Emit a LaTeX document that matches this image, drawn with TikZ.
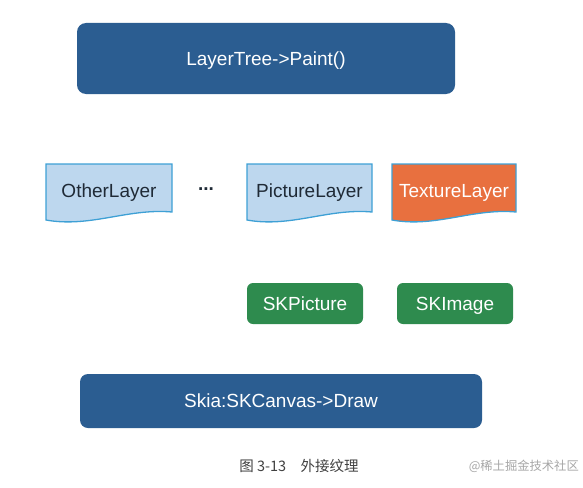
\documentclass[tikz,border=0pt]{standalone}
\usepackage{fontspec}
\setmainfont{Liberation Sans}
\newfontfamily\cjk{Noto Sans CJK SC}
\definecolor{dblue}{HTML}{2B5D91}
\definecolor{lblue}{HTML}{BDD7EE}
\definecolor{lborder}{HTML}{3EA0D5}
\definecolor{orng}{HTML}{E8703F}
\definecolor{grn}{HTML}{2E8B4E}
\definecolor{txt}{HTML}{1F2A36}
\begin{document}
\begin{tikzpicture}[x=1pt,y=-1pt,
  captext/.style={font=\fontsize{19}{22}\selectfont,text height=13.6pt,text depth=0pt},
  bigbox/.style={captext,draw=none,fill=dblue,rounded corners=9pt,text=white,inner sep=0pt},
  greenbox/.style={captext,draw=none,fill=grn,rounded corners=6pt,text=white,minimum width=116pt,minimum height=41pt,inner sep=0pt},
  lbl/.style={captext,inner sep=0pt},
  docline/.style={draw=lborder,line width=1.3pt}]
\useasboundingbox (0,0) rectangle (583,487);
% top box
\node[bigbox,minimum width=378pt,minimum height=71pt] (tree) at (266,58.5) {LayerTree->Paint()};
% document shapes
\newcommand{\docshape}[3]{% x left, x right, fill
  \filldraw[docline,fill=#3] (#1,164) -- (#2,164) -- (#2,212)
    .. controls ({#2-0.35*(#2-#1)},208) and ({#1+0.35*(#2-#1)},228) .. (#1,220) -- cycle;}
\docshape{46}{172}{lblue}
\docshape{247}{372}{lblue}
\docshape{392}{516}{orng}
\node[lbl,text=txt] (other) at (109,190.5) {OtherLayer};
\node[lbl,text=txt,font=\bfseries\fontsize{19}{22}\selectfont] (dots) at (206,184) {...};
\node[lbl,text=txt] (picture) at (309.5,190.5) {PictureLayer};
\node[lbl,text=white] (texture) at (454,190.5) {TextureLayer};
% green boxes
\node[greenbox] (skpic) at (305,303.5) {SKPicture};
\node[greenbox] (skimg) at (455,303.5) {SKImage};
% bottom box
\node[bigbox,rounded corners=8pt,minimum width=402pt,minimum height=54pt] (skia) at (281,401) {Skia:SKCanvas->Draw};
% caption
\node[font=\cjk\fontsize{14.5}{17}\selectfont,text=black!75,inner sep=0pt] (cap) at (299,466) {图\ 3-13\quad 外接纹理};
\node[font=\cjk\fontsize{12.3}{14}\selectfont,text=black!35,inner sep=0pt,anchor=east] (wm) at (579,466) {@稀土掘金技术社区};
\end{tikzpicture}
\end{document}
